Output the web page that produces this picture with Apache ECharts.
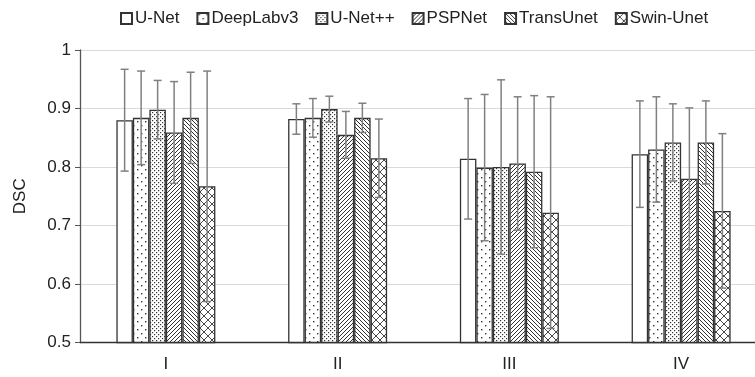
<!DOCTYPE html>
<html>
<head>
<meta charset="utf-8">
<script src="https://cdn.jsdelivr.net/npm/echarts@6/dist/echarts.min.js"></script>
<style>
html, body { margin: 0; padding: 0; background: #fff; }
#chart { width: 755px; height: 377px; }
</style>
</head>
<body>
<div id="chart"></div>
<script>
// Categorías y modelos
const categories = ['I', 'II', 'III', 'IV'];
const models = ['U-Net', 'DeepLabv3', 'U-Net++', 'PSPNet', 'TransUnet', 'Swin-Unet'];

// DSC medio por modelo (uno por categoría)
const unet = [0.880, 0.882, 0.814, 0.822];
const deeplab = [0.884, 0.884, 0.799, 0.830];
const unetpp = [0.898, 0.899, 0.800, 0.842];
const pspnet = [0.859, 0.855, 0.806, 0.780];
const transunet = [0.884, 0.884, 0.792, 0.842];
const swinunet = [0.767, 0.815, 0.722, 0.725];

// Desviación (barras de error)
const unetSd = [0.087, 0.026, 0.103, 0.091];
const deeplabSd = [0.080, 0.033, 0.125, 0.090];
const unetppSd = [0.050, 0.022, 0.149, 0.066];
const pspnetSd = [0.087, 0.040, 0.114, 0.121];
const transunetSd = [0.078, 0.025, 0.130, 0.071];
const swinunetSd = [0.197, 0.067, 0.198, 0.132];

const yTicks = [0.5, 0.6, 0.7, 0.8, 0.9, 1];

const means = [unet, deeplab, unetpp, pspnet, transunet, swinunet];
const sds = [unetSd, deeplabSd, unetppSd, pspnetSd, transunetSd, swinunetSd];

const BAR_W = 16.5;
const INK = '#333333';
const FONT = 17;

// Crear patrones de relleno tipo Excel
function makePattern(kind) {
    const c = document.createElement('canvas');
    const size = 8;
    c.width = size;
    c.height = size;
    const ctx = c.getContext('2d');
    ctx.fillStyle = '#fff';
    ctx.fillRect(0, 0, size, size);
    ctx.fillStyle = INK;
    ctx.strokeStyle = INK;
    ctx.lineWidth = 1;
    if (kind === 'sparse') {
        ctx.fillRect(1, 1, 1.4, 1.4);
        ctx.fillRect(5, 5, 1.4, 1.4);
    } else if (kind === 'dense') {
        [[0, 0], [4, 0], [2, 2], [6, 2], [0, 4], [4, 4], [2, 6], [6, 6]].forEach(p => {
            ctx.fillRect(p[0], p[1], 1.2, 1.2);
        });
    } else if (kind === 'up') {
        for (let k = -8; k <= 16; k += 4) {
            ctx.beginPath();
            ctx.moveTo(k, size);
            ctx.lineTo(k + size, 0);
            ctx.stroke();
        }
    } else if (kind === 'down') {
        for (let k = -8; k <= 16; k += 4) {
            ctx.beginPath();
            ctx.moveTo(k, 0);
            ctx.lineTo(k + size, size);
            ctx.stroke();
        }
    } else if (kind === 'cross') {
        ctx.lineWidth = 0.9;
        for (let k = -8; k <= 16; k += 8) {
            ctx.beginPath();
            ctx.moveTo(k, 0);
            ctx.lineTo(k + size, size);
            ctx.stroke();
            ctx.beginPath();
            ctx.moveTo(k, size);
            ctx.lineTo(k + size, 0);
            ctx.stroke();
        }
    }
    return { image: c, repeat: 'repeat' };
}

const fills = ['#ffffff', makePattern('sparse'), makePattern('dense'),
    makePattern('up'), makePattern('down'), makePattern('cross')];

const chart = echarts.init(document.getElementById('chart'));

const barSeries = models.map((name, i) => ({
    name: name,
    type: 'bar',
    barWidth: BAR_W,
    barGap: '0%',
    itemStyle: {
        color: fills[i],
        borderColor: INK,
        borderWidth: 1.3
    },
    emphasis: { disabled: true },
    data: means[i]
}));

// Datos de barras de error: [categoría, modelo, mínimo, máximo]
const errData = [];
means.forEach((arr, m) => {
    arr.forEach((v, c) => {
        errData.push([c, m, v - sds[m][c], v + sds[m][c]]);
    });
});

const errSeries = {
    type: 'custom',
    name: 'error',
    z: 5,
    silent: true,
    encode: { x: 0, y: [2, 3] },
    data: errData,
    renderItem: function (params, api) {
        const hi = api.coord([api.value(0), api.value(3)]);
        const lo = api.coord([api.value(0), api.value(2)]);
        const x = hi[0] + (api.value(1) - 2.5) * BAR_W;
        const cap = 4;
        const style = { stroke: '#808080', lineWidth: 1.5 };
        return {
            type: 'group',
            children: [
                { type: 'line', shape: { x1: x, y1: hi[1], x2: x, y2: lo[1] }, style: style },
                { type: 'line', shape: { x1: x - cap, y1: hi[1], x2: x + cap, y2: hi[1] }, style: style },
                { type: 'line', shape: { x1: x - cap, y1: lo[1], x2: x + cap, y2: lo[1] }, style: style }
            ]
        };
    }
};

const option = {
    animation: false,
    textStyle: { fontFamily: 'Liberation Sans, Arial, sans-serif' },
    legend: {
        data: models,
        top: 5,
        left: 115,
        itemWidth: 11,
        itemHeight: 11,
        itemGap: 17,
        icon: 'rect',
        textStyle: { fontSize: FONT, color: '#222', padding: [0, 0, 0, -2] }
    },
    grid: {
        left: 80,
        right: -12,
        top: 50,
        bottom: 34.5,
        outerBoundsMode: 'none',
        containLabel: false
    },
    xAxis: {
        type: 'category',
        data: categories,
        axisLine: { lineStyle: { color: '#333', width: 1.3 } },
        axisTick: { alignWithLabel: true, length: 6, lineStyle: { color: '#333' } },
        axisLabel: { fontSize: FONT, color: '#222', margin: 13 },
        splitLine: { show: false }
    },
    yAxis: {
        type: 'value',
        min: yTicks[0],
        max: yTicks[yTicks.length - 1],
        interval: 0.1,
        name: 'DSC',
        nameLocation: 'middle',
        nameGap: 51,
        nameTextStyle: { fontSize: FONT, color: '#222' },
        axisLine: { show: true, lineStyle: { color: '#555', width: 1.3 } },
        axisTick: { show: true, length: 5, lineStyle: { color: '#555' } },
        axisLabel: { fontSize: FONT, color: '#222', margin: 9,
            formatter: v => String(Math.round(v * 10) / 10) },
        splitLine: { lineStyle: { color: '#dadada', width: 1 } }
    },
    series: barSeries.concat([errSeries])
};

chart.setOption(option);
</script>
</body>
</html>
